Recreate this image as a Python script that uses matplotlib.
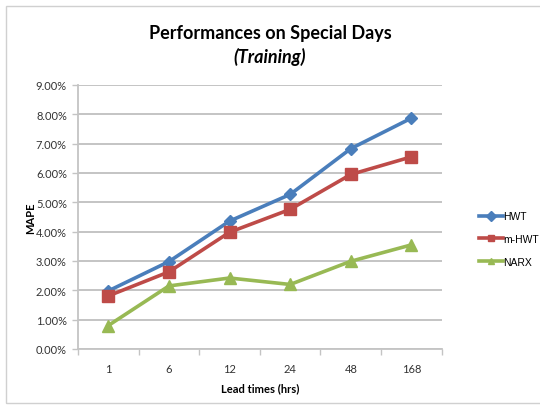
import matplotlib
matplotlib.use("Agg")
import matplotlib.pyplot as plt
from matplotlib.patches import Rectangle
from matplotlib.ticker import FuncFormatter, MultipleLocator

lead_times = ["1", "6", "12", "24", "48", "168"]
hwt = [1.98, 2.98, 4.36, 5.27, 6.83, 7.87]
m_hwt = [1.81, 2.63, 3.98, 4.76, 5.95, 6.55]
narx = [0.80, 2.15, 2.42, 2.20, 2.99, 3.55]
series_names = ["HWT", "m-HWT", "NARX"]
colors = ["#4a7ebb", "#be4b48", "#98b954"]
markers = ["D", "s", "^"]
marker_sizes = [6, 8.5, 9]

fig = plt.figure(figsize=(5.4, 4.06), dpi=100)
ax = fig.add_axes([78 / 540, 1 - 350 / 406, (441.7 - 78) / 540, (350 - 86) / 406])

# chart frame
fig.patches.append(Rectangle((6 / 540, 2 / 406), 1.2, 1 - 9 / 406,
                             transform=fig.transFigure, fill=False,
                             edgecolor="#d0d0d0", lw=1.0, zorder=0))

x = list(range(len(lead_times)))
for vals, name, c, m, ms in zip([hwt, m_hwt, narx], series_names, colors, markers, marker_sizes):
    ax.plot(x, vals, color=c, lw=2.6, marker=m, ms=ms, label=name,
            markeredgecolor=c, zorder=3)

ax.set_xlim(-0.5, len(lead_times) - 0.5)
ax.set_ylim(0, 9)
ax.yaxis.set_major_locator(MultipleLocator(1))
ax.yaxis.set_major_formatter(FuncFormatter(lambda v, p: f"{v:.2f}%"))
ax.set_xticks(x)
ax.set_xticklabels(lead_times)
ax.set_xticks([i - 0.5 for i in range(len(lead_times) + 1)], minor=True)

ax.grid(axis="y", color="#c4c4c4", lw=1.4)
ax.set_axisbelow(True)
for s in ["top", "right"]:
    ax.spines[s].set_visible(False)
for s in ["left", "bottom"]:
    ax.spines[s].set_color("#c4c4c4")
    ax.spines[s].set_linewidth(1.3)

tick_font = "Lato"
ax.tick_params(axis="y", length=4, color="#c4c4c4", width=1, labelsize=8, pad=4,
               labelcolor="#333333")
ax.tick_params(axis="x", which="major", length=0, labelsize=8, pad=10,
               labelcolor="#333333")
ax.tick_params(axis="x", which="minor", length=4, color="#c4c4c4", width=1)
for lab in ax.get_xticklabels() + ax.get_yticklabels():
    lab.set_family(tick_font)

ax.set_xlabel("Lead times (hrs)", fontsize=8, fontweight="bold", family=tick_font, labelpad=6)
ax.set_ylabel("MAPE", fontsize=8, fontweight="bold", family=tick_font, labelpad=0)

fig.text(270 / 540, 1 - 34 / 406, "Performances on Special Days", ha="center", va="center",
         fontsize=13, fontweight="bold", family="Lato")
fig.text(270 / 540, 1 - 57 / 406, "(Training)", ha="center", va="center",
         fontsize=13, fontweight="bold", style="italic", family="Lato")

leg = ax.legend(loc="center left", bbox_to_anchor=(470 / 540, 1 - 240 / 406),
                bbox_transform=fig.transFigure, frameon=False,
                handlelength=2.3, handletextpad=0.0, labelspacing=1.2,
                prop={"family": "Liberation Sans", "size": 7.5})
for h in leg.legend_handles:
    h.set_markersize(5)

fig.savefig("out.png", dpi=100)
